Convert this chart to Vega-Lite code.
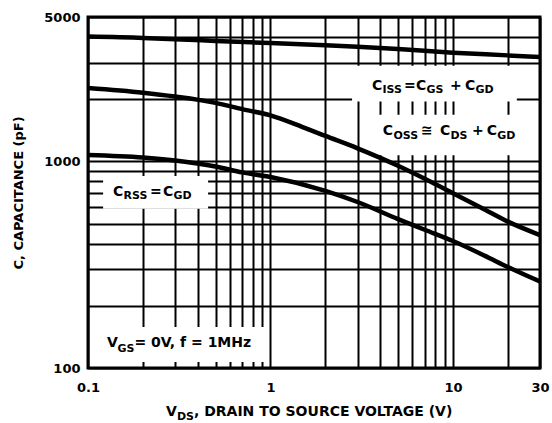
{
  "$schema": "https://vega.github.io/schema/vega-lite/v6.json",
  "width": 452,
  "height": 351,
  "autosize": {"type": "none"},
  "padding": {"left": 88, "top": 17, "right": 12, "bottom": 55},
  "background": "white",
  "config": {"view": {"stroke": "black", "strokeWidth": 3}, "font": "DejaVu Sans"},
  "datasets": {
    "boxes": [
      {"box": "Crss", "x": 0.121, "x2": 0.455, "y": 590, "y2": 850},
      {"box": "Vgs", "x": 0.103, "x2": 0.96, "y": 107, "y2": 158},
      {"box": "Ciss", "x": 2.8, "x2": 22.4, "y": 1950, "y2": 2900},
      {"box": "Coss", "x": 3.5, "x2": 22.4, "y": 1070, "y2": 1680}
    ],
    "curves": [
      {"series": "Ciss", "x": 0.1, "y": 4020},
      {"series": "Ciss", "x": 0.2, "y": 3960},
      {"series": "Ciss", "x": 0.3, "y": 3900},
      {"series": "Ciss", "x": 0.5, "y": 3830},
      {"series": "Ciss", "x": 1, "y": 3740},
      {"series": "Ciss", "x": 2, "y": 3650},
      {"series": "Ciss", "x": 3, "y": 3590},
      {"series": "Ciss", "x": 5, "y": 3500},
      {"series": "Ciss", "x": 10, "y": 3360},
      {"series": "Ciss", "x": 20, "y": 3260},
      {"series": "Ciss", "x": 30, "y": 3200},
      {"series": "Coss", "x": 0.1, "y": 2265},
      {"series": "Coss", "x": 0.2, "y": 2150},
      {"series": "Coss", "x": 0.3, "y": 2060},
      {"series": "Coss", "x": 0.5, "y": 1920},
      {"series": "Coss", "x": 0.7, "y": 1790},
      {"series": "Coss", "x": 1, "y": 1670},
      {"series": "Coss", "x": 1.5, "y": 1466},
      {"series": "Coss", "x": 2, "y": 1328},
      {"series": "Coss", "x": 3, "y": 1157},
      {"series": "Coss", "x": 4, "y": 1040},
      {"series": "Coss", "x": 5, "y": 952},
      {"series": "Coss", "x": 7, "y": 824},
      {"series": "Coss", "x": 10, "y": 702},
      {"series": "Coss", "x": 15, "y": 583},
      {"series": "Coss", "x": 20, "y": 511},
      {"series": "Coss", "x": 30, "y": 440},
      {"series": "Crss", "x": 0.1, "y": 1075},
      {"series": "Crss", "x": 0.2, "y": 1045},
      {"series": "Crss", "x": 0.3, "y": 1010},
      {"series": "Crss", "x": 0.5, "y": 945},
      {"series": "Crss", "x": 0.7, "y": 885},
      {"series": "Crss", "x": 1, "y": 840},
      {"series": "Crss", "x": 2, "y": 720},
      {"series": "Crss", "x": 3, "y": 636},
      {"series": "Crss", "x": 5, "y": 526},
      {"series": "Crss", "x": 7, "y": 467},
      {"series": "Crss", "x": 10, "y": 412},
      {"series": "Crss", "x": 15, "y": 349},
      {"series": "Crss", "x": 20, "y": 308},
      {"series": "Crss", "x": 30, "y": 262}
    ],
    "labels": [
      {"kind": "main", "x": 3.6, "y": 2216, "text": "C"},
      {"kind": "sub", "x": 4.11, "y": 2143, "text": "ISS"},
      {"kind": "main", "x": 5.39, "y": 2216, "text": "="},
      {"kind": "main", "x": 6.28, "y": 2216, "text": "C"},
      {"kind": "sub", "x": 7.17, "y": 2143, "text": "GS"},
      {"kind": "main", "x": 9.63, "y": 2216, "text": "+"},
      {"kind": "main", "x": 11.64, "y": 2216, "text": "C"},
      {"kind": "sub", "x": 13.28, "y": 2143, "text": "GD"},
      {"kind": "main", "x": 4.13, "y": 1342, "text": "C"},
      {"kind": "sub", "x": 4.72, "y": 1284, "text": "OSS"},
      {"kind": "main", "x": 6.68, "y": 1342, "text": "≅"},
      {"kind": "main", "x": 8.49, "y": 1342, "text": "C"},
      {"kind": "sub", "x": 9.69, "y": 1284, "text": "DS"},
      {"kind": "main", "x": 12.71, "y": 1342, "text": "+"},
      {"kind": "main", "x": 15.3, "y": 1342, "text": "C"},
      {"kind": "sub", "x": 17.47, "y": 1284, "text": "GD"},
      {"kind": "main", "x": 0.137, "y": 680, "text": "C"},
      {"kind": "sub", "x": 0.1565, "y": 655, "text": "RSS"},
      {"kind": "main", "x": 0.2185, "y": 680, "text": "="},
      {"kind": "main", "x": 0.2575, "y": 680, "text": "C"},
      {"kind": "sub", "x": 0.294, "y": 655, "text": "GD"},
      {"kind": "main", "x": 0.127, "y": 126, "text": "V"},
      {"kind": "sub", "x": 0.145, "y": 120, "text": "GS"},
      {"kind": "main", "x": 0.1798, "y": 126, "text": "= 0V, f = 1MHz"},
      {"kind": "main", "x": 0.2676, "y": 58.6, "text": "V"},
      {"kind": "sub", "x": 0.3074, "y": 56.3, "text": "DS"},
      {"kind": "main", "x": 0.3809, "y": 58.6, "text": ", DRAIN TO SOURCE VOLTAGE (V)"}
    ]
  },
  "encoding": {
    "x": {
      "field": "x",
      "type": "quantitative",
      "scale": {"type": "log", "domain": [0.1, 30], "nice": false},
      "axis": {
        "title": null,
        "values": [0.1, 0.2, 0.3, 0.4, 0.5, 0.6, 0.7, 0.8, 0.9, 1, 2, 3, 4, 5, 6, 7, 8, 9, 10, 20, 30],
        "grid": true,
        "gridColor": "black",
        "gridWidth": 2,
        "gridOpacity": 1,
        "ticks": false,
        "domain": false,
        "labelExpr": "datum.value == 0.1 ? '0.1' : datum.value == 1 ? '1' : datum.value == 10 ? '10' : datum.value == 30 ? '30' : ''",
        "labelFont": "DejaVu Sans",
        "labelFontWeight": "bold",
        "labelFontSize": 13,
        "labelColor": "black",
        "labelPadding": 13,
        "labelFlush": false,
        "labelOverlap": false
      }
    },
    "y": {
      "field": "y",
      "type": "quantitative",
      "scale": {"type": "log", "domain": [100, 5000], "nice": false},
      "axis": {
        "title": "C, CAPACITANCE (pF)",
        "titleFont": "DejaVu Sans",
        "titleFontWeight": "bold",
        "titleFontSize": 13,
        "titleColor": "black",
        "titlePadding": 18,
        "values": [100, 200, 300, 400, 500, 600, 700, 800, 900, 1000, 2000, 3000, 4000, 5000],
        "grid": true,
        "gridColor": "black",
        "gridWidth": 2,
        "gridOpacity": 1,
        "ticks": false,
        "domain": false,
        "labelExpr": "datum.value == 100 || datum.value == 1000 || datum.value == 5000 ? datum.value + '' : ''",
        "labelFont": "DejaVu Sans",
        "labelFontWeight": "bold",
        "labelFontSize": 13,
        "labelColor": "black",
        "labelPadding": 8,
        "labelFlush": false,
        "labelOverlap": false
      }
    }
  },
  "layer": [
    {
      "data": {"name": "boxes"},
      "mark": {"type": "rect", "color": "white"},
      "encoding": {"x2": {"field": "x2"}, "y2": {"field": "y2"}}
    },
    {
      "data": {"name": "curves"},
      "mark": {"type": "line", "color": "black", "strokeWidth": 4.5, "interpolate": "monotone", "clip": true},
      "encoding": {"detail": {"field": "series"}}
    },
    {
      "data": {"name": "labels"},
      "transform": [{"filter": "datum.kind == 'main'"}],
      "mark": {"type": "text", "font": "DejaVu Sans", "fontWeight": "bold", "fontSize": 14, "align": "left", "baseline": "alphabetic", "color": "black"},
      "encoding": {"text": {"field": "text"}}
    },
    {
      "data": {"name": "labels"},
      "transform": [{"filter": "datum.kind == 'sub'"}],
      "mark": {"type": "text", "font": "DejaVu Sans", "fontWeight": "bold", "fontSize": 11, "align": "left", "baseline": "alphabetic", "color": "black"},
      "encoding": {"text": {"field": "text"}}
    }
  ]
}
